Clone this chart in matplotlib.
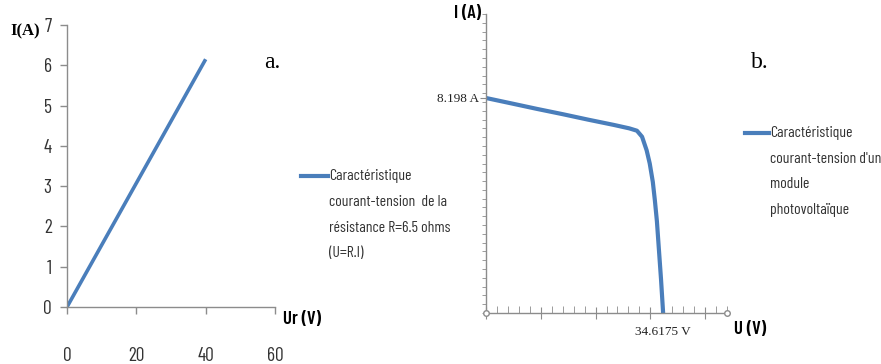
import numpy as np
import matplotlib.pyplot as plt
from matplotlib.ticker import FixedLocator

# --- data -------------------------------------------------------------
# a. resistance R = 6.5 ohms
ur_volts = [0, 40]
ir_amps = [0, 6.15]
a_xticks = [0, 20, 40, 60]
a_yticks = [0, 1, 2, 3, 4, 5, 6, 7]

# b. PV module I-V curve
pv_volts = [0, 5, 10, 15, 20, 25, 28, 29.5, 30.5, 31.4, 32.0, 32.6, 33.0, 33.4, 33.8, 34.2, 34.6175]
pv_amps = [8.198, 7.99, 7.78, 7.58, 7.37, 7.17, 7.04, 6.95, 6.72, 6.2, 5.7, 5.0, 4.3, 3.5, 2.4, 1.3, 0]
isc = 8.198
voc = 34.6175

legend_a = ["Caractéristique", "courant-tension  de la", "résistance R=6.5 ohms", "(U=R.I)"]
legend_b = ["Caractéristique", "courant-tension d'un", "module", "photovoltaïque"]

BLUE = '#4a7ebb'
GREY = '#8c8c8c'
TXT = '#333333'
NARROW = ['Barlow Condensed', 'Archivo Narrow', 'Liberation Sans', 'DejaVu Sans']
SERIF = ['Liberation Serif', 'DejaVu Serif']

W, H = 881, 364
fig = plt.figure(figsize=(W / 100, H / 100), dpi=100)


def fx(px):
    return px / W


def fy(py):
    return 1 - py / H


def legend_block(x_line, x_text, y_first, step, lines):
    fig.add_artist(plt.Line2D([fx(x_line), fx(x_text - 1)], [fy(y_first)] * 2, color=BLUE, lw=3))
    for i, s in enumerate(lines):
        fig.text(fx(x_text), fy(y_first + i * step), s, family=NARROW, fontsize=11.3,
                 va='center', ha='left', color=TXT)


# --- panel a ----------------------------------------------------------
ax1 = fig.add_axes([fx(67), 57 / H, 208 / W, 282 / H])
ax1.plot(ur_volts, ir_amps, color=BLUE, lw=2.6, solid_capstyle='butt')
ax1.set_xlim(0, 60)
ax1.set_ylim(0, 7)
ax1.set_xticks(a_xticks)
ax1.set_yticks(a_yticks)
for s in ['top', 'right']:
    ax1.spines[s].set_visible(False)
for s in ['left', 'bottom']:
    ax1.spines[s].set_color(GREY)
    ax1.spines[s].set_linewidth(1.0)
ax1.tick_params(axis='both', colors=GREY, length=5, width=1)
ax1.tick_params(axis='x', pad=24)
ax1.tick_params(axis='y', pad=6)
for lab in ax1.get_xticklabels() + ax1.get_yticklabels():
    lab.set_family(NARROW)
    lab.set_fontsize(14)
    lab.set_color(TXT)

fig.text(fx(10), fy(31), 'I(A)', family=SERIF, fontsize=12, fontweight='bold', va='center', ha='left')
fig.text(fx(283), fy(320), 'Ur (V)', family=NARROW, fontsize=13.5, fontweight='semibold', va='center', ha='left')
fig.text(fx(264), fy(62), 'a.', family=SERIF, fontsize=17, va='center', ha='left')

legend_block(301, 329, 176, 25.8, legend_a)

# --- panel b ----------------------------------------------------------
xmax = 47.1
ymax = 11.4
ax2 = fig.add_axes([fx(486), 51 / H, 241 / W, 299 / H])
ax2.plot(pv_volts, pv_amps, color=BLUE, lw=3, solid_joinstyle='round')
ax2.set_xlim(0, xmax)
ax2.set_ylim(0, ymax)
for s in ['top', 'right']:
    ax2.spines[s].set_visible(False)
for s in ['left', 'bottom']:
    ax2.spines[s].set_color(GREY)
    ax2.spines[s].set_linewidth(1.0)

x_minor = np.arange(0, 23) * xmax / 22
ax2.xaxis.set_major_locator(FixedLocator(x_minor[::5]))
ax2.xaxis.set_minor_locator(FixedLocator(x_minor))
ax2.yaxis.set_major_locator(FixedLocator([isc]))
ax2.yaxis.set_minor_locator(FixedLocator(np.arange(0, 35) * ymax / 34))
ax2.set_xticklabels([])
ax2.set_yticklabels(['8.198 A'])
ax2.tick_params(axis='x', which='major', direction='inout', length=9, colors=GREY)
ax2.tick_params(axis='x', which='minor', direction='in', length=5, colors=GREY)
ax2.tick_params(axis='y', which='major', direction='out', length=4, colors=GREY, pad=1)
ax2.tick_params(axis='y', which='minor', direction='out', length=3, colors=GREY)
for lab in ax2.get_yticklabels():
    lab.set_family(SERIF)
    lab.set_fontsize(9.5)
    lab.set_color('#222222')

ax2.plot([0, xmax], [0, 0], 'o', ms=4, mfc='white', mec=GREY, mew=1, clip_on=False, zorder=5)
ax2.annotate('34.6175 V', xy=(voc, 0), xytext=(0, -14), textcoords='offset points',
             ha='center', va='center', family=SERIF, fontsize=9.5, color='#222222')

fig.text(fx(481), fy(14), 'I (A)', family=NARROW, fontsize=13.5, fontweight='semibold', va='center', ha='right')
fig.text(fx(734), fy(329), 'U (V)', family=NARROW, fontsize=13.5, fontweight='semibold', va='center', ha='left')
fig.text(fx(751), fy(62), 'b.', family=SERIF, fontsize=17, va='center', ha='left')

legend_block(745, 770, 133, 25.7, legend_b)

plt.savefig('out.png', dpi=100)
